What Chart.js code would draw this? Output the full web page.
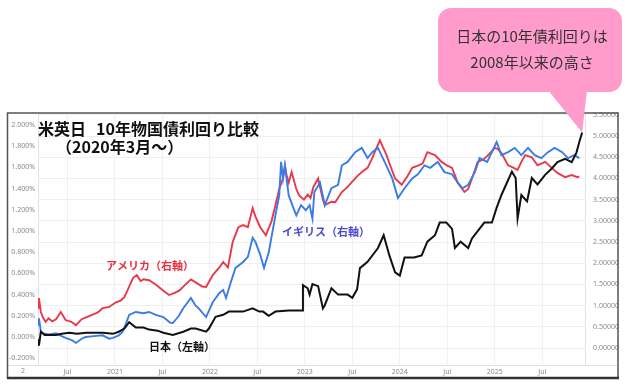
<!DOCTYPE html>
<html>
<head>
<meta charset="utf-8">
<script src="https://cdn.jsdelivr.net/npm/chart.js@4.4.1/dist/chart.umd.min.js"></script>
<style>
html,body{margin:0;padding:0;background:#fff;}
#wrap{position:relative;width:630px;height:384px;}
canvas{display:block;}
</style>
</head>
<body>
<div id="wrap"><canvas id="c" width="630" height="384"></canvas></div>
<script>
// ---- data (decimal years, yields in %) ----
const xTickValues = [2020.5, 2021, 2021.5, 2022, 2022.5, 2023, 2023.5, 2024, 2024.5, 2025, 2025.5];
const xTickLabels = ['Jul','2021','Jul','2022','Jul','2023','Jul','2024','Jul','2025','Jul'];
const leftTicks = [-0.2, 0, 0.2, 0.4, 0.6, 0.8, 1.0, 1.2, 1.4, 1.6, 1.8, 2.0];
const rightTicks = [0, 0.5, 1.0, 1.5, 2.0, 2.5, 3.0, 3.5, 4.0, 4.5, 5.0, 5.5];

const usDates = [2020.19,2020.20,2020.22,2020.24,2020.27,2020.30,2020.34,2020.38,2020.43,2020.48,2020.54,2020.59,2020.65,2020.69,2020.76,2020.82,2020.87,2020.94,2021.01,2021.06,2021.10,2021.15,2021.19,2021.23,2021.27,2021.30,2021.36,2021.43,2021.51,2021.57,2021.63,2021.68,2021.72,2021.80,2021.85,2021.92,2021.96,2022.03,2022.10,2022.14,2022.19,2022.24,2022.30,2022.35,2022.40,2022.45,2022.48,2022.53,2022.59,2022.65,2022.69,2022.73,2022.77,2022.79,2022.81,2022.83,2022.86,2022.91,2022.94,2022.99,2023.03,2023.06,2023.09,2023.14,2023.19,2023.21,2023.28,2023.32,2023.39,2023.45,2023.49,2023.55,2023.60,2023.66,2023.71,2023.75,2023.79,2023.82,2023.86,2023.90,2023.95,2024.02,2024.08,2024.13,2024.19,2024.24,2024.29,2024.37,2024.44,2024.50,2024.55,2024.61,2024.68,2024.72,2024.76,2024.82,2024.88,2024.93,2025.00,2025.03,2025.07,2025.14,2025.20,2025.24,2025.28,2025.32,2025.39,2025.45,2025.53,2025.60,2025.66,2025.74,2025.81,2025.87,2025.89];
const usYields = [0.95,1.18,0.85,0.73,0.62,0.70,0.63,0.68,0.85,0.66,0.62,0.54,0.68,0.72,0.78,0.84,0.94,0.97,1.08,1.12,1.20,1.45,1.65,1.72,1.58,1.62,1.60,1.50,1.35,1.25,1.30,1.36,1.45,1.62,1.55,1.45,1.44,1.72,1.90,2.03,1.90,2.50,2.85,2.90,2.85,3.30,3.10,2.85,2.66,3.00,3.37,3.75,4.00,4.31,4.05,3.90,4.15,3.75,3.60,3.50,3.62,3.54,3.80,4.00,3.50,3.37,3.45,3.44,3.68,3.80,3.90,4.05,4.15,4.25,4.48,4.70,4.90,4.75,4.55,4.30,4.00,3.85,4.05,4.25,4.30,4.35,4.62,4.55,4.39,4.30,4.25,3.90,3.68,3.75,4.00,4.39,4.45,4.55,4.72,4.70,4.60,4.31,4.25,4.20,4.39,4.55,4.50,4.31,4.39,4.25,4.13,4.03,4.08,4.03,4.05];

const ukDates = [2020.19,2020.20,2020.22,2020.24,2020.30,2020.38,2020.44,2020.48,2020.55,2020.59,2020.65,2020.69,2020.78,2020.87,2020.94,2020.98,2021.04,2021.08,2021.12,2021.15,2021.22,2021.30,2021.36,2021.43,2021.51,2021.58,2021.61,2021.67,2021.72,2021.80,2021.85,2021.88,2021.96,2022.03,2022.10,2022.14,2022.17,2022.22,2022.27,2022.35,2022.40,2022.45,2022.48,2022.53,2022.57,2022.62,2022.69,2022.73,2022.75,2022.77,2022.79,2022.83,2022.88,2022.91,2022.96,2023.01,2023.05,2023.08,2023.10,2023.16,2023.21,2023.28,2023.35,2023.39,2023.45,2023.53,2023.60,2023.66,2023.71,2023.77,2023.84,2023.92,2023.98,2024.05,2024.13,2024.19,2024.26,2024.32,2024.40,2024.47,2024.55,2024.61,2024.66,2024.72,2024.79,2024.84,2024.92,2025.02,2025.07,2025.14,2025.21,2025.28,2025.35,2025.42,2025.49,2025.56,2025.63,2025.71,2025.77,2025.84,2025.89];
const ukYields = [0.55,0.70,0.40,0.35,0.32,0.35,0.28,0.24,0.18,0.12,0.22,0.26,0.28,0.30,0.22,0.24,0.30,0.38,0.60,0.78,0.85,0.82,0.85,0.78,0.73,0.60,0.59,0.75,0.94,1.18,1.00,0.94,0.73,1.08,1.30,1.37,1.18,1.55,1.89,2.03,2.15,2.60,2.50,2.20,1.89,2.26,3.13,3.60,4.39,4.00,4.30,3.60,3.30,3.13,3.37,3.25,3.37,3.05,3.68,3.90,3.37,3.77,3.85,4.31,4.39,4.62,4.72,4.48,4.62,4.72,4.39,4.00,3.54,3.77,4.00,4.10,4.31,4.25,4.39,4.15,4.10,3.90,3.77,3.85,4.15,4.48,4.39,4.86,4.55,4.62,4.72,4.55,4.72,4.55,4.48,4.62,4.72,4.62,4.48,4.55,4.48];

const jpDates = [2020.19,2020.20,2020.22,2020.26,2020.38,2020.44,2020.52,2020.60,2020.70,2020.87,2020.98,2021.04,2021.10,2021.15,2021.22,2021.30,2021.36,2021.45,2021.51,2021.61,2021.72,2021.80,2021.85,2021.96,2021.99,2022.06,2022.14,2022.20,2022.30,2022.35,2022.45,2022.52,2022.56,2022.62,2022.69,2022.83,2022.94,2022.97,2022.98,2023.03,2023.05,2023.08,2023.14,2023.19,2023.21,2023.28,2023.35,2023.45,2023.50,2023.55,2023.58,2023.66,2023.77,2023.83,2023.89,2023.95,2024.00,2024.05,2024.15,2024.23,2024.29,2024.37,2024.42,2024.49,2024.55,2024.58,2024.64,2024.72,2024.76,2024.82,2024.89,2024.97,2025.02,2025.07,2025.13,2025.18,2025.22,2025.24,2025.28,2025.34,2025.39,2025.45,2025.53,2025.60,2025.66,2025.74,2025.81,2025.86,2025.89,2025.92];
const jpYields = [-0.02,-0.08,0.05,0.02,0.02,0.03,0.04,0.03,0.04,0.04,0.03,0.05,0.08,0.14,0.09,0.09,0.07,0.06,0.04,0.02,0.05,0.08,0.08,0.05,0.08,0.19,0.21,0.24,0.24,0.24,0.27,0.24,0.24,0.20,0.24,0.25,0.25,0.25,0.49,0.46,0.40,0.50,0.48,0.27,0.30,0.46,0.40,0.40,0.37,0.45,0.65,0.71,0.84,0.96,0.77,0.61,0.58,0.75,0.75,0.77,0.90,0.96,1.08,1.08,1.02,0.84,0.90,0.84,0.93,1.00,1.08,1.08,1.22,1.34,1.46,1.56,1.50,1.12,1.34,1.28,1.50,1.44,1.53,1.59,1.65,1.68,1.65,1.74,1.84,1.93];

const pts = (d, v) => d.map((x, i) => ({x: x, y: v[i]}));

const tickFont = {family: 'Noto Sans', size: 7};
const tickColor = '#8a8a8a';
const jpFont = 'bold 11px "Noto Sans CJK JP"';

const decorPlugin = {
  id: 'decor',
  beforeDraw(chart) {
    const ctx = chart.ctx;
    ctx.save();
    ctx.fillStyle = '#fff';
    ctx.fillRect(0, 0, chart.width, chart.height);
    ctx.restore();
  },
  afterDraw(chart) {
    const ctx = chart.ctx;
    const ca = chart.chartArea;
    ctx.save();
    ctx.strokeStyle = '#e2e2e2';
    ctx.lineWidth = 1;
    ctx.beginPath();
    ctx.moveTo(8, ca.bottom + 0.5); ctx.lineTo(617, ca.bottom + 0.5);
    ctx.stroke();
    ctx.fillStyle = tickColor;
    ctx.font = '7px "Noto Sans"';
    ctx.textAlign = 'center'; ctx.textBaseline = 'middle';
    ctx.fillText('2', 23, 371);
    ctx.strokeStyle = '#555';
    ctx.lineWidth = 1.5;
    ctx.strokeRect(7.5, 113, 610.5, 265);
    ctx.lineWidth = 2.5;
    ctx.strokeStyle = '#333';
    ctx.beginPath(); ctx.moveTo(7, 378); ctx.lineTo(619, 378); ctx.stroke();

    ctx.fillStyle = '#111';
    ctx.textAlign = 'left'; ctx.textBaseline = 'middle';
    ctx.font = 'bold 16px "Noto Sans CJK JP"';
    ctx.fillText('米英日', 38, 129);
    ctx.fillText('10年物国債利回り比較', 96, 129);
    ctx.fillText('（2020年3月～）', 56, 147);

    ctx.font = jpFont;
    ctx.fillStyle = '#e8303f';
    ctx.fillText('アメリカ（右軸）', 106, 266);
    ctx.fillStyle = '#111';
    ctx.fillText('日本（左軸）', 149, 347);
    ctx.fillStyle = '#4b4bcc';
    ctx.fillText('イギリス（右軸）', 282, 232);

    const xs = chart.scales.x, yl = chart.scales.yL;
    const tipX = xs.getPixelForValue(jpDates[jpDates.length - 1]);
    const tipY = yl.getPixelForValue(jpYields[jpYields.length - 1]);
    ctx.fillStyle = '#ff9ccb';
    ctx.beginPath();
    ctx.moveTo(548, 90); ctx.lineTo(587, 90); ctx.lineTo(tipX, tipY); ctx.closePath();
    ctx.fill();
    const bx = 438, by = 8, bw = 184, bh = 84, r = 13;
    ctx.beginPath();
    ctx.moveTo(bx + r, by);
    ctx.arcTo(bx + bw, by, bx + bw, by + bh, r);
    ctx.arcTo(bx + bw, by + bh, bx, by + bh, r);
    ctx.arcTo(bx, by + bh, bx, by, r);
    ctx.arcTo(bx, by, bx + bw, by, r);
    ctx.closePath();
    ctx.fill();
    ctx.fillStyle = '#333';
    ctx.font = '15px "Noto Sans CJK JP"';
    ctx.textAlign = 'center';
    ctx.fillText('日本の10年債利回りは', 532, 36);
    ctx.fillText('2008年以来の高さ', 532, 62);
    ctx.restore();
  }
};

new Chart(document.getElementById('c'), {
  type: 'line',
  data: {
    datasets: [
      {label: '日本', data: pts(jpDates, jpYields), yAxisID: 'yL', borderColor: '#111', borderWidth: 2},
      {label: 'イギリス', data: pts(ukDates, ukYields), yAxisID: 'yR', borderColor: '#3a7be6', borderWidth: 1.9},
      {label: 'アメリカ', data: pts(usDates, usYields), yAxisID: 'yR', borderColor: '#e8394c', borderWidth: 1.9}
    ]
  },
  options: {
    responsive: false,
    devicePixelRatio: 1,
    animation: false,
    elements: {point: {radius: 0}, line: {tension: 0}},
    layout: {padding: {left: 0, right: 0, top: 114, bottom: 0}},
    plugins: {legend: {display: false}, tooltip: {enabled: false}},
    scales: {
      x: {
        type: 'linear', min: 2020.19, max: 2025.95,
        afterBuildTicks: s => { s.ticks = xTickValues.map(v => ({value: v})); },
        afterFit: s => { s.height = 19; },
        ticks: {font: tickFont, color: tickColor, maxRotation: 0, autoSkip: false, padding: 3,
          callback: (v) => { const i = xTickValues.indexOf(v); return i >= 0 ? xTickLabels[i] : ''; }},
        grid: {color: '#f0f0f0', drawTicks: false},
        border: {display: false}
      },
      yL: {
        position: 'left', min: -0.264, max: 2.104,
        afterBuildTicks: s => { s.ticks = leftTicks.map(v => ({value: v})); },
        afterFit: s => { s.width = 38; },
        ticks: {font: tickFont, color: tickColor, padding: 3, callback: v => v.toFixed(3) + '%'},
        grid: {display: false, drawTicks: false},
        border: {display: true, color: '#e2e2e2'}
      },
      yR: {
        position: 'right', min: -0.40, max: 5.52,
        afterBuildTicks: s => { s.ticks = rightTicks.map(v => ({value: v})); },
        afterFit: s => { s.width = 45; },
        ticks: {font: tickFont, color: tickColor, padding: 8, callback: v => v.toFixed(5)},
        grid: {color: '#efefef', drawTicks: false},
        border: {display: true, color: '#e2e2e2'}
      }
    }
  },
  plugins: [decorPlugin]
});
</script>
</body>
</html>
